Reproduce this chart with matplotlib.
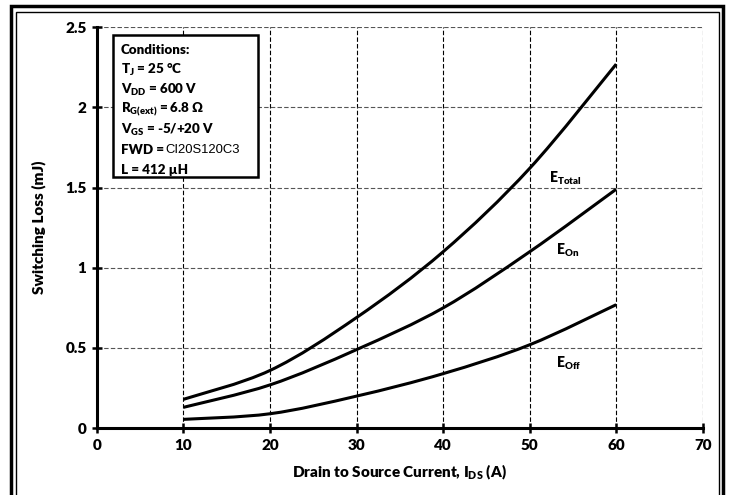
"""Switching loss vs drain current, recreated with matplotlib."""

import matplotlib.pyplot as plt
from matplotlib.patches import PathPatch, Rectangle
from matplotlib.path import Path

current_a = [10, 20, 30, 40, 50, 60]
e_total = [0.18, 0.36, 0.69, 1.10, 1.62, 2.27]
e_on = [0.13, 0.27, 0.49, 0.75, 1.10, 1.49]
e_off = [0.055, 0.09, 0.20, 0.34, 0.52, 0.77]

x_ticks = [0, 10, 20, 30, 40, 50, 60, 70]
y_ticks = [0, 0.5, 1, 1.5, 2, 2.5]
y_tick_labels = ["0", "0.5", "1", "1.5", "2", "2.5"]

conditions = [
    "Conditions:",
    "T$_\\mathregular{J}$ = 25 °C",
    "V$_\\mathregular{DD}$ = 600 V",
    "R$_\\mathregular{G(ext)}$ = 6.8 Ω",
    "V$_\\mathregular{GS}$ = -5/+20 V",
    "FWD =",
    "L = 412 µH",
]

WEIGHT = "heavy"
plt.rcParams["font.family"] = ["Lato", "DejaVu Sans"]
plt.rcParams["font.weight"] = WEIGHT
plt.rcParams["mathtext.fontset"] = "custom"
plt.rcParams["mathtext.rm"] = "Lato:" + WEIGHT
plt.rcParams["mathtext.it"] = "Lato:" + WEIGHT
plt.rcParams["mathtext.bf"] = "Lato:" + WEIGHT


def smooth_path(xs, ys):
    """Excel-style smoothed line as cubic Bezier segments through the points."""
    verts = [(xs[0], ys[0])]
    codes = [Path.MOVETO]
    n = len(xs)
    for i in range(n - 1):
        x0, y0 = (xs[i - 1], ys[i - 1]) if i > 0 else (xs[i], ys[i])
        x1, y1 = xs[i], ys[i]
        x2, y2 = xs[i + 1], ys[i + 1]
        x3, y3 = (xs[i + 2], ys[i + 2]) if i + 2 < n else (x2, y2)
        c1 = (x1 + (x2 - x0) / 6, y1 + (y2 - y0) / 6)
        c2 = (x2 - (x3 - x1) / 6, y2 - (y3 - y1) / 6)
        verts += [c1, c2, (x2, y2)]
        codes += [Path.CURVE4] * 3
    return Path(verts, codes)


fig = plt.figure(figsize=(7.29, 4.95), dpi=100)
ax = fig.add_axes([0.133, 0.135, 0.831, 0.81])

for ys in (e_total, e_on, e_off):
    ax.add_patch(PathPatch(smooth_path(current_a, ys), facecolor="none",
                           edgecolor="black", linewidth=2.2,
                           capstyle="butt", zorder=3))

ax.set_xlim(0, 70)
ax.set_ylim(0, 2.5)
ax.set_xticks(x_ticks)
ax.set_yticks(y_ticks)
ax.set_yticklabels(y_tick_labels)

# Grid: black dashed verticals, grey dashed horizontals
for x in x_ticks[1:]:
    ax.axvline(x, color="black", linestyle=(0, (4, 2)), linewidth=0.8, zorder=1)
for y in y_ticks[1:]:
    ax.axhline(y, color="#555555", linestyle=(0, (4, 2)), linewidth=0.8, zorder=1)

ax.spines["top"].set_visible(False)
ax.spines["right"].set_visible(False)
ax.spines["left"].set_linewidth(2.2)
ax.spines["bottom"].set_linewidth(2.2)
ax.tick_params(direction="inout", length=7, width=1.8, labelsize=11, pad=4)
for lbl in ax.get_xticklabels() + ax.get_yticklabels():
    lbl.set_fontweight(WEIGHT)

ax.set_xlabel("Drain to Source Current, I$_\\mathregular{DS}$ (A)",
              fontsize=11, fontweight=WEIGHT, labelpad=8)
ax.set_ylabel("Switching Loss (mJ)", fontsize=11, fontweight=WEIGHT, labelpad=14)

# Curve labels
ax.text(52.2, 1.53, "E$_\\mathregular{Total}$", fontsize=10, fontweight=WEIGHT)
ax.text(53.0, 1.08, "E$_\\mathregular{On}$", fontsize=10, fontweight=WEIGHT)
ax.text(53.0, 0.38, "E$_\\mathregular{Off}$", fontsize=10, fontweight=WEIGHT)

# Conditions box
ax.add_patch(Rectangle((1.85, 1.567), 16.8, 0.886, transform=ax.transData,
                       facecolor="white", edgecolor="black", linewidth=1.8,
                       zorder=4))
for i, line in enumerate(conditions):
    ax.text(2.75, 2.36 - i * 0.125, line, fontsize=9.6, fontweight=WEIGHT,
            va="center", zorder=5)
    if line == "FWD =":
        ax.text(7.9, 2.36 - i * 0.125, "CI20S120C3", fontsize=9.4,
                family="Liberation Sans", fontweight="normal", va="center",
                zorder=5)

# Double frame around the figure
fig.patches.append(Rectangle((11 / 729, -0.01), 712 / 729, 1 - 6 / 495 + 0.01,
                             transform=fig.transFigure, fill=False,
                             edgecolor="black", linewidth=2.5))
fig.patches.append(Rectangle((15.5 / 729, -0.01), 703 / 729, 1 - 12 / 495 + 0.01,
                             transform=fig.transFigure, fill=False,
                             edgecolor="black", linewidth=1.0))

fig.savefig("out.png", dpi=100)
